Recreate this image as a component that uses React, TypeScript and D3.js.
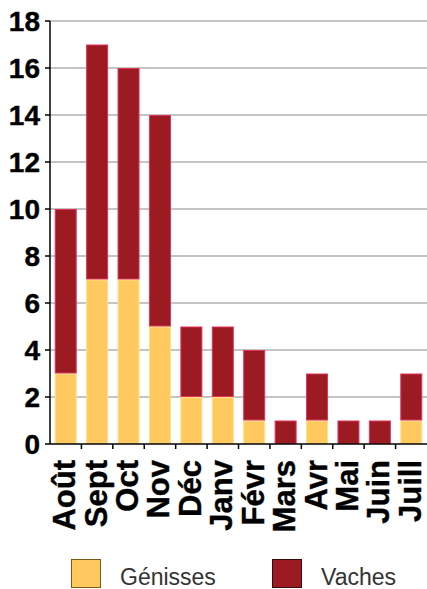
import React from "react";
import * as d3 from "d3";

const months = ["Août", "Sept", "Oct", "Nov", "Déc", "Janv", "Févr", "Mars", "Avr", "Mai", "Juin", "Juill"];
const genisses = [3, 7, 7, 5, 2, 2, 1, 0, 1, 0, 0, 1];
const vaches = [7, 10, 9, 9, 3, 3, 3, 1, 2, 1, 1, 2];
const yTicks = [0, 2, 4, 6, 8, 10, 12, 14, 16, 18];
const seriesNames = ["Génisses", "Vaches"];
const colors = ["#FFC95F", "#9C1B22"];
const strokes = ["#FFE08A", "#E0325A"];

const W = 427;
const H = 589;
const left = 50;
const right = 427;
const top = 21;
const bottom = 444;

export default function App() {
  const x = d3.scaleBand<string>().domain(months).range([left, right]).paddingInner(0.3).paddingOuter(0.15);
  const xb = d3.scaleBand<string>().domain(months).range([left, right]).padding(0);
  const y = d3.scaleLinear().domain([0, 18]).range([bottom, top]);
  const font = "'Liberation Sans', Arial, sans-serif";
  const table = months.map((m, i) => ({ m, g: genisses[i], v: vaches[i] }));
  const stack = d3.stack<any>().keys(["g", "v"])(table);

  return (
    <svg width={W} height={H} style={{ position: "absolute", left: 0, top: 0, display: "block", background: "#fff" }} fontFamily={font}>
      {yTicks.filter((t) => t > 0).map((t) => (
        <line key={"g" + t} x1={left} x2={right} y1={y(t)} y2={y(t)} stroke="#c4c4c4" strokeWidth={2} />
      ))}
      {stack.map((s, si) =>
        s.map((d, i) =>
          d[1] - d[0] > 0 ? (
            <rect
              key={si + "-" + i}
              x={x(months[i])! + 0.5}
              y={y(d[1]) + 0.5}
              width={x.bandwidth() - 1}
              height={y(d[0]) - y(d[1]) - 1}
              fill={colors[si]}
              stroke={strokes[si]}
              strokeWidth={1}
            />
          ) : null
        )
      )}
      <line x1={left} x2={left} y1={top} y2={bottom} stroke="#000" strokeWidth={1.5} />
      <line x1={left} x2={right} y1={bottom} y2={bottom} stroke="#000" strokeWidth={1.5} />
      {yTicks.map((t) => (
        <g key={"y" + t}>
          <line x1={left - 5} x2={left} y1={y(t)} y2={y(t)} stroke="#000" strokeWidth={1.5} />
          <text x={40} y={y(t)} dy="0.36em" textAnchor="end" fontSize={28} fontWeight="bold" fill="#000" stroke="#000" strokeWidth={0.4}>
            {t}
          </text>
        </g>
      ))}
      {months.slice(1).map((m) => (
        <line key={"t" + m} x1={xb(m)!} x2={xb(m)!} y1={bottom} y2={bottom + 5} stroke="#000" strokeWidth={1.5} />
      ))}
      {months.map((m) => (
        <text
          key={"x" + m}
          transform={`translate(${xb(m)! + xb.bandwidth() / 2 + 9.5},460) rotate(-90)`}
          textAnchor="end"
          fontSize={31}
          fontWeight="bold"
          fill="#000"
          stroke="#000"
          strokeWidth={0.4}
        >
          {m}
        </text>
      ))}
      {seriesNames.map((n, i) => (
        <g key={n} transform={`translate(${71 + i * 201},559)`}>
          <rect x={0.5} y={0.5} width={29} height={28} fill={colors[i]} stroke={i === 0 ? "#7a5a10" : "#3a0a0a"} strokeWidth={1} />
          <text x={49} y={26} fontSize={23} fill="#333">
            {n}
          </text>
        </g>
      ))}
    </svg>
  );
}
